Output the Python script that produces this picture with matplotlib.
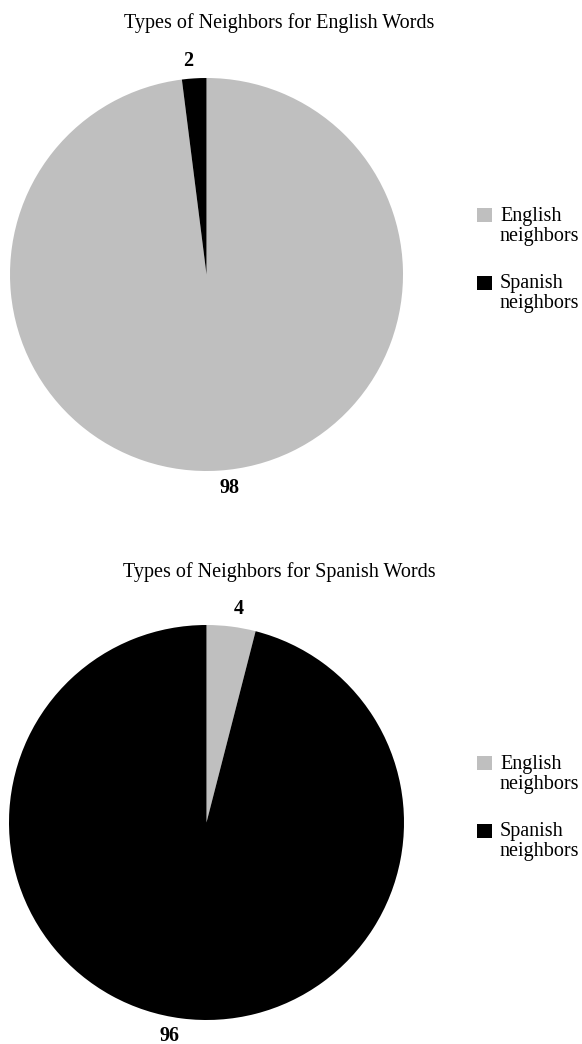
import matplotlib
matplotlib.use('Agg')
import matplotlib.pyplot as plt
from matplotlib.patches import Rectangle, Wedge
from matplotlib.legend_handler import HandlerPatch

plt.rcParams['font.family'] = ['Liberation Serif', 'DejaVu Serif']

categories = ['English\nneighbors', 'Spanish\nneighbors']
colors = ['#bfbfbf', '#000000']
titles = ['Types of Neighbors for English Words',
          'Types of Neighbors for Spanish Words']
english_words = [98, 2]
spanish_words = [4, 96]
series = [english_words, spanish_words]

W, H = 582, 1044
FS = 14.5
fig = plt.figure(figsize=(W / 100, H / 100), dpi=100)

# pie centre (px from top), radius px, title baseline y, legend centre y
layout = [(274.5, 196.5, 28, 260), (822.5, 197.5, 577, 808)]


def square(legend, orig_handle, xdescent, ydescent, width, height, fontsize):
    # sit the marker beside the first line of a two-line label
    return Rectangle((-xdescent, -ydescent + 0.55 * fontsize), width, height)


for vals, title, (cy, r, ty, ly) in zip(series, titles, layout):
    cx = 206.5
    ax = fig.add_axes([(cx - r) / W, 1 - (cy + r) / H, 2 * r / W, 2 * r / H])
    wedges, texts = ax.pie(vals, colors=colors, startangle=90, counterclock=False,
                           labels=[str(v) for v in vals], labeldistance=1.09,
                           textprops=dict(fontsize=FS, fontweight='bold'),
                           wedgeprops=dict(linewidth=0))
    for t in texts:
        t.set_clip_on(False)
    ax.set_xlim(-1, 1)
    ax.set_ylim(-1, 1)
    ax.set_aspect('equal')
    fig.text(279.5 / W, 1 - ty / H, title, ha='center', va='baseline', fontsize=FS)
    leg = ax.legend(wedges, categories, loc='center left',
                    bbox_to_anchor=(477 / W, 1 - ly / H), bbox_transform=fig.transFigure,
                    frameon=False, fontsize=FS, handlelength=0.72, handleheight=0.72,
                    handletextpad=0.42, labelspacing=1.4, borderpad=0, borderaxespad=0,
                    handler_map={Wedge: HandlerPatch(patch_func=square)})
    for t in leg.get_texts():
        t.set_linespacing(1.1)

plt.savefig('out.png', dpi=100)
